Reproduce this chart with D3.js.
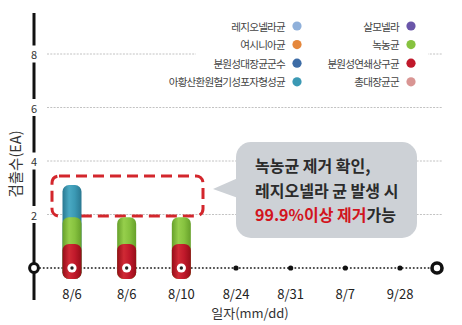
<!DOCTYPE html>
<html>
<head>
<meta charset="utf-8">
<script src="https://cdn.jsdelivr.net/npm/d3@7/dist/d3.min.js"></script>
<style>
  html, body { margin: 0; padding: 0; background: #fff; }
  svg { display: block; }
  text { font-family: "Noto Sans CJK KR", "Noto Sans", sans-serif; }
</style>
</head>
<body>
<svg id="chart" width="462" height="325"></svg>
<script>
// Sampling dates (two samples on 8/6)
const categories = ["8/6", "8/6", "8/10", "8/24", "8/31", "8/7", "9/28"];

// Detected counts per organism, stacked bottom to top
const fecalStrep   = [0.9, 0.9, 0.9, 0, 0, 0, 0];   // 분원성연쇄상구균
const pseudomonas  = [1.0, 1.0, 1.0, 0, 0, 0, 0];   // 녹농균
const clostridium  = [1.2, 0,   0,   0, 0, 0, 0];   // 아황산환원혐기성포자형성균

const yTicks = [2, 4, 6, 8];

const legendLeft = [
  { name: "레지오넬라균", color: "#8fb0da" },
  { name: "여시니아균", color: "#e5873c" },
  { name: "분원성대장균군수", color: "#3d6ca6" },
  { name: "아황산환원혐기성포자형성균", color: "#3b99b4" }
];
const legendRight = [
  { name: "살모넬라", color: "#6a56a9" },
  { name: "녹농균", color: "#86c23f" },
  { name: "분원성연쇄상구균", color: "#c0192b" },
  { name: "총대장균군", color: "#d99593" }
];

const stackSeries = [
  { key: "fecalStrep", values: fecalStrep, base: "#c0192b", dark: "#950d18", light: "#d02a35" },
  { key: "pseudomonas", values: pseudomonas, base: "#86c23f", dark: "#66a02a", light: "#96cf4c" },
  { key: "clostridium", values: clostridium, base: "#3b99b4", dark: "#2a7891", light: "#4aa9c3" }
];

const svg = d3.select("#chart");

const x = d3.scalePoint().domain(d3.range(categories.length)).range([72, 400]);
const y = d3.scaleLinear().domain([0, 8]).range([268, 54]);

const axisX = 34, gridX0 = 47, gridX1 = 442, baseY = y(0);

// Horizontal bar gradients for a rounded, cylindrical look
const defs = svg.append("defs");
stackSeries.forEach(s => {
  const g = defs.append("linearGradient").attr("id", "grad-" + s.key)
    .attr("x1", "0%").attr("x2", "100%").attr("y1", "0%").attr("y2", "0%");
  g.append("stop").attr("offset", "0%").attr("stop-color", s.dark);
  g.append("stop").attr("offset", "35%").attr("stop-color", s.light);
  g.append("stop").attr("offset", "65%").attr("stop-color", s.base);
  g.append("stop").attr("offset", "100%").attr("stop-color", s.dark);
});

// Gridlines
svg.append("g").selectAll("line").data(yTicks).join("line")
  .attr("x1", gridX0).attr("x2", gridX1)
  .attr("y1", d => y(d)).attr("y2", d => y(d))
  .attr("stroke", "#c2c2c2").attr("stroke-width", 1)
  .attr("stroke-dasharray", "2,1.3");

// Y axis: solid line interrupted at each tick label
const gap = 8.5;
const breaks = yTicks.map(d => y(d)).sort((a, b) => a - b);
const segs = [];
let segStart = 13;
breaks.forEach(b => { segs.push([segStart, b - gap]); segStart = b + gap; });
segs.push([segStart, 300]);
svg.append("g").selectAll("line").data(segs).join("line")
  .attr("x1", axisX).attr("x2", axisX)
  .attr("y1", d => d[0]).attr("y2", d => d[1])
  .attr("stroke", "#111").attr("stroke-width", 3);

svg.append("g").selectAll("text").data(yTicks).join("text")
  .attr("x", axisX).attr("y", d => y(d))
  .attr("text-anchor", "middle").attr("dominant-baseline", "central")
  .attr("font-family", "'Liberation Sans', Arial, sans-serif")
  .attr("font-size", 11).attr("fill", "#333")
  .text(d => d);

// Dotted baseline
svg.append("line")
  .attr("x1", axisX + 6).attr("x2", gridX1 - 8)
  .attr("y1", baseY).attr("y2", baseY)
  .attr("stroke", "#444").attr("stroke-width", 2)
  .attr("stroke-linecap", "round").attr("stroke-dasharray", "0.1,3.6");

// Legend
const legend = svg.append("g");
legend.append("rect").attr("x", 196).attr("y", 12).attr("width", 232).attr("height", 82).attr("fill", "#fff");
function drawLegend(items, textRight, dotX) {
  const g = legend.append("g");
  items.forEach((d, i) => {
    const yy = 26 + i * 18.6;
    g.append("text").attr("x", textRight).attr("y", yy)
      .attr("text-anchor", "end").attr("dominant-baseline", "central")
      .attr("font-size", 10.6).attr("letter-spacing", -0.8)
      .attr("fill", "#444").text(d.name);
    g.append("circle").attr("cx", dotX).attr("cy", yy).attr("r", 4.6).attr("fill", d.color);
  });
}
drawLegend(legendLeft, 285, 297);
drawLegend(legendRight, 399, 411);

// Highlight box around the upper part of the first bar group
svg.append("rect")
  .attr("x", 52).attr("y", 176).attr("width", 151).attr("height", 40)
  .attr("rx", 7).attr("fill", "none")
  .attr("stroke", "#d3262c").attr("stroke-width", 3)
  .attr("stroke-dasharray", "11,6");

// Stacked rounded bars: each segment runs from the bar foot to its cumulative top,
// drawn upper series first so the lower segments overlap them.
const barW = 19, barFoot = baseY + 11;
const cum = categories.map((c, i) => {
  let acc = 0;
  return stackSeries.map(s => (acc += s.values[i]));
});
const totals = cum.map(c => c[c.length - 1]);

const bars = svg.append("g");
for (let si = stackSeries.length - 1; si >= 0; si--) {
  const s = stackSeries[si];
  bars.append("g").selectAll("rect")
    .data(categories.map((c, i) => ({ i, v: s.values[i], topVal: cum[i][si] })).filter(d => d.v > 0))
    .join("rect")
    .attr("x", d => x(d.i) - barW / 2)
    .attr("y", d => y(d.topVal))
    .attr("width", barW)
    .attr("height", d => barFoot - y(d.topVal))
    .attr("rx", 6.5)
    .attr("fill", "url(#grad-" + s.key + ")");
}

// Baseline markers
const withBar = d3.range(categories.length).filter(i => totals[i] > 0);
const noBar = d3.range(categories.length).filter(i => totals[i] === 0);
svg.append("g").selectAll("circle").data(withBar).join("circle")
  .attr("cx", i => x(i)).attr("cy", baseY).attr("r", 4.6).attr("fill", "#fff");
svg.append("g").selectAll("circle").data(withBar).join("circle")
  .attr("cx", i => x(i)).attr("cy", baseY).attr("r", 1.7).attr("fill", "#222");
svg.append("g").selectAll("circle").data(noBar).join("circle")
  .attr("cx", i => x(i)).attr("cy", baseY).attr("r", 2.6).attr("fill", "#111");

// End caps of the baseline
[axisX, 437].forEach((cx, k) => {
  svg.append("circle").attr("cx", cx).attr("cy", baseY).attr("r", k ? 5 : 4.4)
    .attr("fill", "#fff").attr("stroke", "#111").attr("stroke-width", k ? 3.6 : 3);
});

// Category labels
svg.append("g").selectAll("text").data(categories).join("text")
  .attr("x", (d, i) => x(i)).attr("y", 293)
  .attr("text-anchor", "middle").attr("dominant-baseline", "central")
  .attr("font-family", "'Liberation Sans Narrow', 'Liberation Sans', sans-serif")
  .attr("font-size", 13).attr("fill", "#222")
  .text(d => d);

// Axis titles
svg.append("text").attr("x", 250).attr("y", 312)
  .attr("text-anchor", "middle").attr("dominant-baseline", "central")
  .attr("font-size", 13).attr("fill", "#333").text("일자(mm/dd)");
svg.append("text")
  .attr("transform", "translate(14,164) rotate(-90)")
  .attr("text-anchor", "middle").attr("dominant-baseline", "central")
  .attr("font-size", 14.5).attr("fill", "#333").text("검출수(EA)");

// Callout bubble
const callout = svg.append("g");
callout.append("path")
  .attr("d", "M238,178 L213,189 L238,198 Z").attr("fill", "#cdd1d6");
callout.append("rect")
  .attr("x", 236).attr("y", 142).attr("width", 181).attr("height", 96)
  .attr("rx", 15).attr("fill", "#cdd1d6");
const lines = [
  [{ t: "녹농균 제거 확인,", c: "#2b2b2b" }],
  [{ t: "레지오넬라 균 발생 시", c: "#2b2b2b" }],
  [{ t: "99.9%이상 제거", c: "#d2141d" }, { t: "가능", c: "#2b2b2b" }]
];
lines.forEach((parts, li) => {
  const t = callout.append("text").attr("x", 255).attr("y", 165 + li * 24.5)
    .attr("dominant-baseline", "central")
    .attr("font-size", 16).attr("font-weight", 700);
  parts.forEach(p => t.append("tspan").attr("fill", p.c).text(p.t));
});
</script>
</body>
</html>
